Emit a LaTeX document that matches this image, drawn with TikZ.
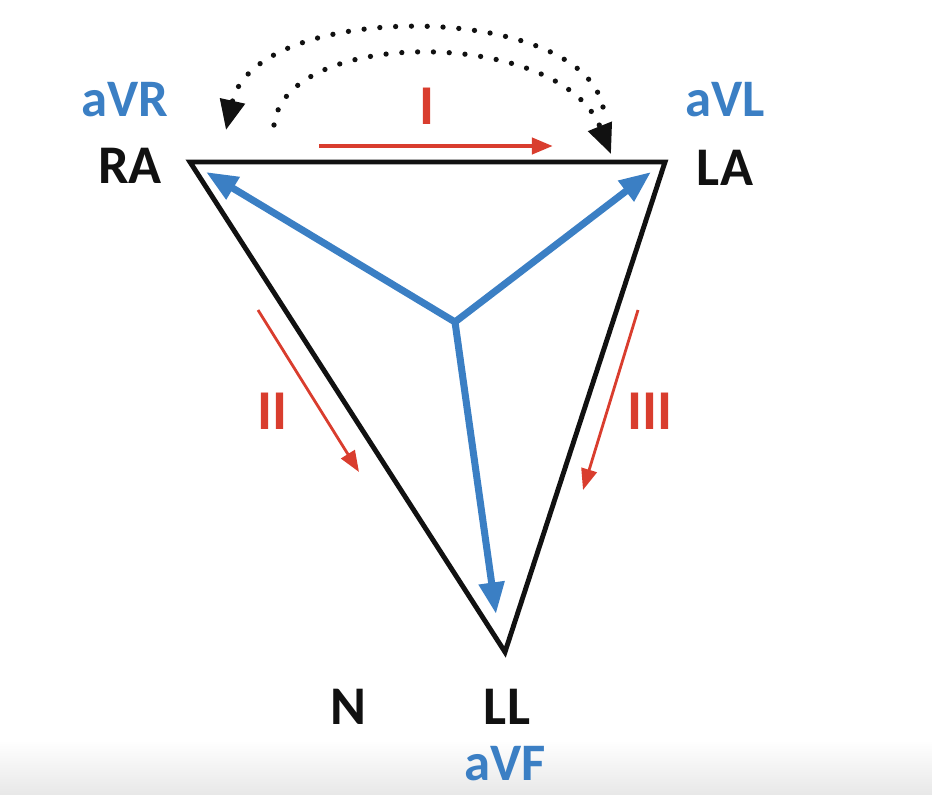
\documentclass[tikz,border=0pt]{standalone}
\usepackage{fontspec}
\setmainfont{Carlito}
\usetikzlibrary{positioning,arrows.meta}
\definecolor{aum}{HTML}{3B7FC4}
\definecolor{bip}{HTML}{D93D2E}
\definecolor{tinta}{HTML}{111111}

\begin{document}
\begin{tikzpicture}[
  x=0.02cm, y=-0.02cm,
  eletrodo/.style={font=\fontsize{31}{34}\selectfont\bfseries, text=tinta, inner sep=0pt},
  derivacao/.style={font=\fontsize{30}{34}\selectfont\bfseries, text=aum, inner sep=0pt},
  romano/.style={font=\fontsize{32}{34}\selectfont\bfseries, text=bip, inner sep=0pt},
  lado/.style={draw=tinta, line width=2.8pt},
  vetor/.style={-{Triangle[length=18pt,width=14pt]}, draw=aum, line width=4pt},
  seta/.style={-{Triangle[length=12pt,width=9pt]}, draw=bip, line width=1.6pt},
  pontos/.style={-{Triangle[length=17pt,width=14pt]}, draw=tinta, line width=3pt,
    dash pattern=on 0pt off 9pt, line cap=round}]
\useasboundingbox (0,0) rectangle (932,794);
\shade[top color=white, bottom color=black!9] (0,740) rectangle (932,794);
% vertices do triangulo
\coordinate (ra) at (190,162);
\coordinate (la) at (665,162);
\coordinate (ll) at (505,652);
\coordinate (centro) at (455,322);
\coordinate (pra) at (206,172);
\coordinate (pla) at (651,172);
\coordinate (pll) at (496,614);
\draw[lado] (ra) -- (la) -- (ll) -- cycle;
\draw[vetor] (centro) -- (pra);
\draw[vetor] (centro) -- (pla);
\draw[vetor] (centro) -- (pll);
% eletrodos
\node[eletrodo] (nra) at (130,166) {RA};
\node[eletrodo] (nla) at (725,168) {LA};
\node[eletrodo] (nn) at (348,707) {N};
\node[eletrodo] (nll) at (507,707) {LL};
\node[derivacao] (avr) at (125,100) {aVR};
\node[derivacao] (avl) at (725,100) {aVL};
\node[derivacao] (avf) at (505,764) {aVF};
% derivacoes bipolares
\node[romano] (d1) at (427,106) {I};
\node[romano] (d2) at (272,411) {II};
\node[romano] (d3) at (650,411) {III};
\coordinate (i0) at (319,146);
\coordinate (i1) at (553,146);
\coordinate (ii0) at (258,310);
\coordinate (ii1) at (359,472);
\coordinate (iii0) at (638,310);
\coordinate (iii1) at (583,490);
\draw[seta, line width=2.6pt] (i0) -- (i1);
\draw[seta] (ii0) -- (ii1);
\draw[seta] (iii0) -- (iii1);
% arcos pontilhados
\coordinate (a0) at (603,107);
\coordinate (a1) at (226,130);
\coordinate (b0) at (274,125);
\coordinate (b1) at (611,154);
\draw[pontos] (a0) .. controls (580,0) and (255,0) .. (a1);
\draw[pontos] (b0) .. controls (285,27) and (560,27) .. (b1);
\end{tikzpicture}
\end{document}
